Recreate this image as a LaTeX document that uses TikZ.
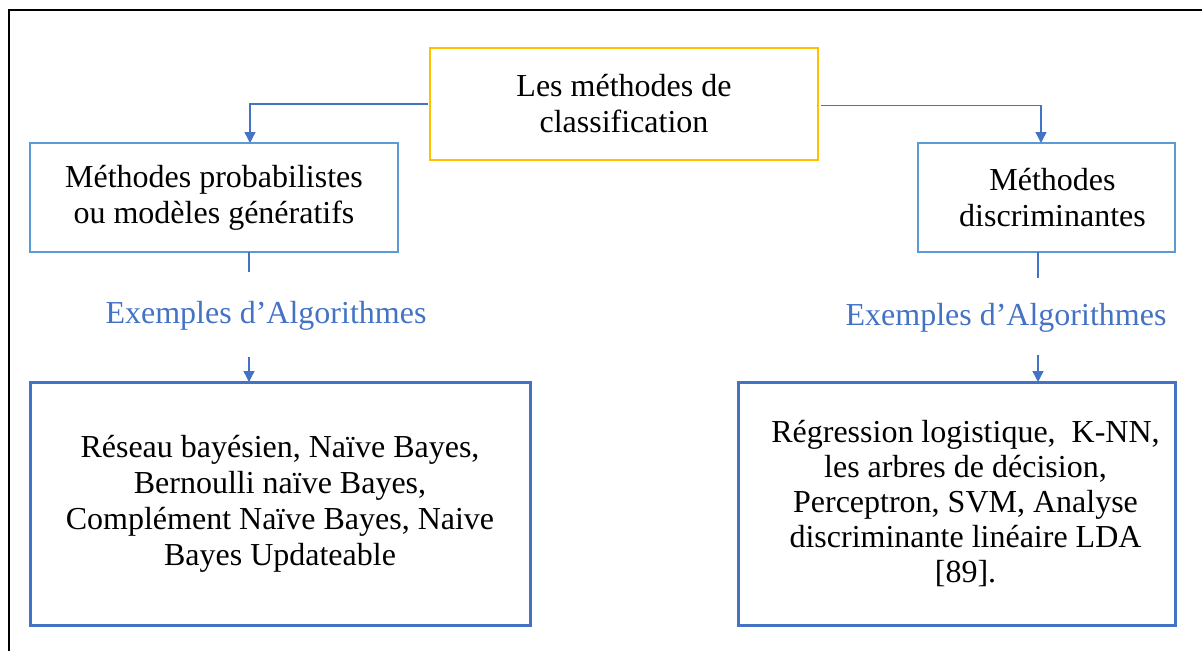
\documentclass[tikz,border=0pt]{standalone}
\usepackage{fontspec}
\setmainfont{Liberation Serif}
\usetikzlibrary{arrows.meta}
\definecolor{gold}{HTML}{FFC000}
\definecolor{lblue}{HTML}{5B9BD5}
\definecolor{dblue}{HTML}{4472C4}
\begin{document}
\begin{tikzpicture}[x=1pt,y=-1pt,
  txt/.style={font=\fontsize{32}{36}\selectfont, align=center},
  box/.style={draw, rectangle, inner sep=0pt, txt},
  topbox/.style={box, draw=gold, line width=2.2pt},
  midbox/.style={box, draw=lblue, line width=2.2pt},
  lowbox/.style={box, draw=dblue, line width=3pt},
  conn/.style={draw=dblue, line width=1.4pt},
  arrow/.style={conn, -{Triangle[length=11pt,width=11pt]}},
  example/.style={txt, text=dblue}]
\useasboundingbox (0,0) rectangle (1202,651);
% outer frame
\draw[line width=2.5pt] (9,651) -- (9,10) -- (1202,10);

% boxes
\node[topbox, minimum width=388pt, minimum height=112pt] (top) at (624,104)
  {Les méthodes de\\classification};
\node[midbox, minimum width=368pt, minimum height=109pt] (prob) at (214,197.5)
  {Méthodes probabilistes\\ou modèles génératifs};
\node[midbox, minimum width=257pt, minimum height=109pt] (disc) at (1046.5,197.5)
  {\hspace*{12pt}Méthodes\\\hspace*{12pt}discriminantes};
\node[lowbox, minimum width=500pt, minimum height=243pt] (algp) at (280,503.5)
  {Réseau bayésien, Naïve Bayes,\\Bernoulli naïve Bayes,\\Complément Naïve Bayes, Naive\\Bayes Updateable};
\node[lowbox, minimum width=437pt, minimum height=243pt,
      font=\fontsize{32}{35}\selectfont] (algd) at (956.5,503.5)
  {\hspace*{18pt}Régression logistique,\ \ K-NN,\\\hspace*{18pt}les arbres de décision,\\\hspace*{18pt}Perceptron, SVM, Analyse\\\hspace*{18pt}discriminante linéaire LDA\\\hspace*{18pt}[89].};

% example labels
\node[example] (exp) at (266,316) {Exemples d’Algorithmes};
\node[example] (exd) at (1006,318) {Exemples d’Algorithmes};

% connector end points
\coordinate (pin) at (250,143);
\coordinate (din) at (1041,143);
\coordinate (pout) at (249,252);
\coordinate (pstub) at (249,272);
\coordinate (parr) at (249,357);
\coordinate (palg) at (249,382);
\coordinate (dout) at (1038,252);
\coordinate (dstub) at (1038,278);
\coordinate (darr) at (1038,355);
\coordinate (dalg) at (1038,382);

% connectors
\draw[arrow] ([xshift=-1pt]top.west) -| (pin);
\draw[arrow] ([xshift=2pt,yshift=-1.5pt]top.east) -| (din);
\draw[conn] (pout) -- (pstub);
\draw[arrow] (parr) -- (palg);
\draw[conn] (dout) -- (dstub);
\draw[arrow] (darr) -- (dalg);
\end{tikzpicture}
\end{document}
